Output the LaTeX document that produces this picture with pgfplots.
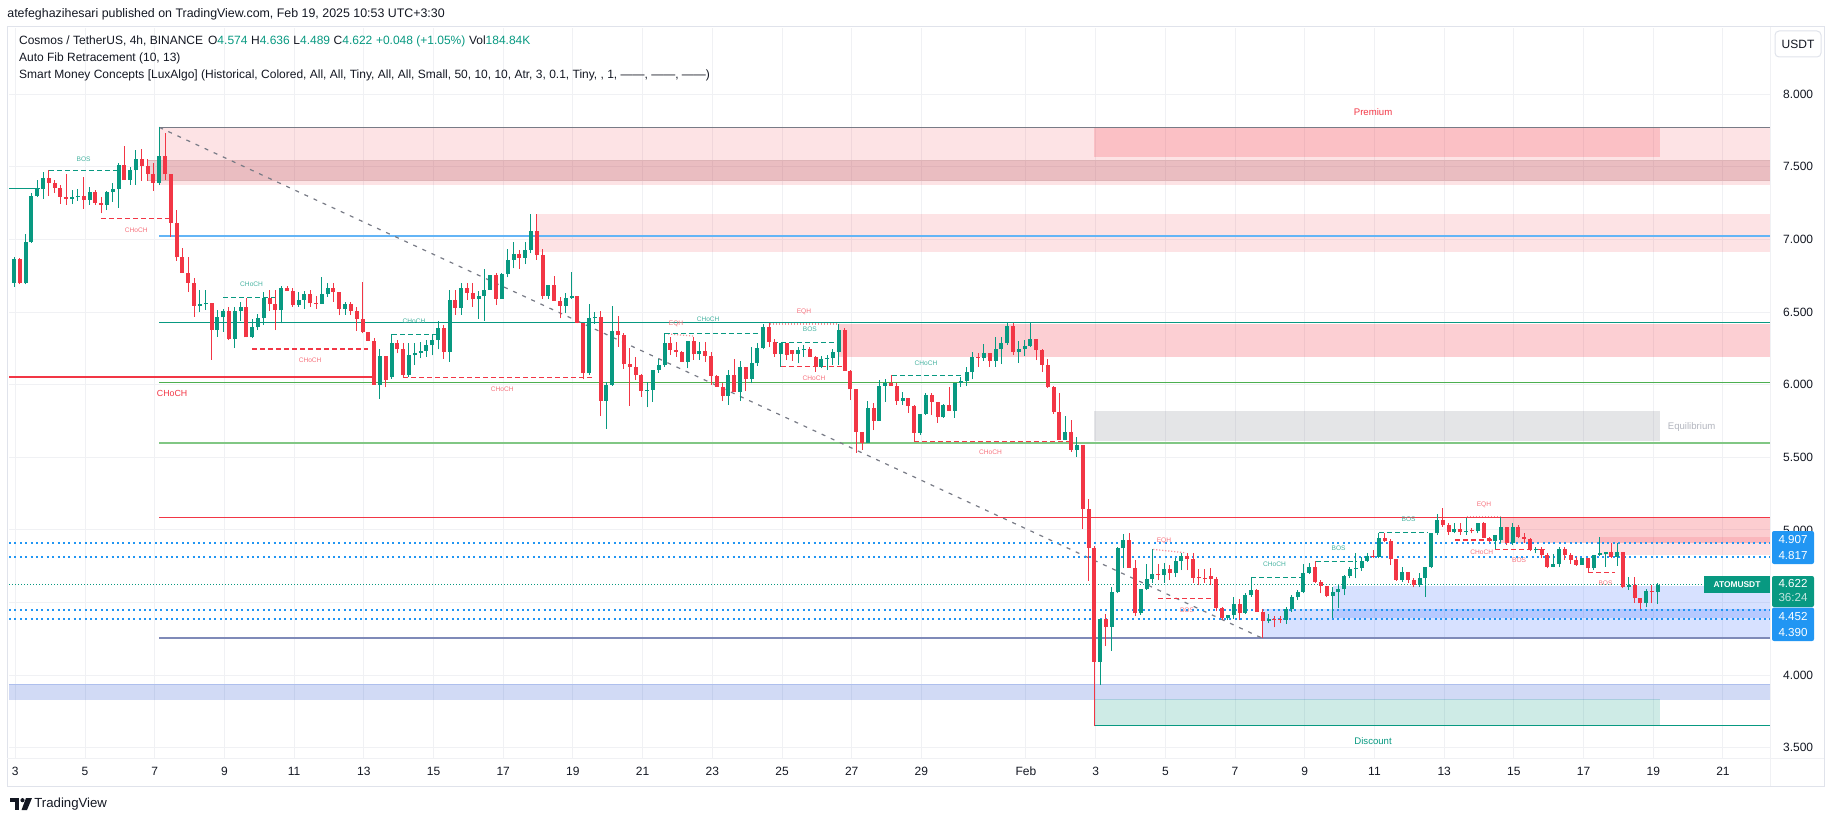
\documentclass[border=0pt]{standalone}
\usepackage{fontspec}
\setmainfont{Liberation Sans}
\usepackage{pgfplots}
\usepackage{pgfplotstable}
\pgfplotsset{compat=1.18}

\definecolor{upc}{HTML}{089981}
\definecolor{dnc}{HTML}{F23645}
\definecolor{txt}{HTML}{131722}
\definecolor{gridc}{HTML}{F0F1F4}
\definecolor{framec}{HTML}{E0E3EB}
\definecolor{fibgray}{HTML}{787B86}
\definecolor{fibblue}{HTML}{64B5F6}
\definecolor{fibgreen}{HTML}{4CAF50}
\definecolor{fiblgreen}{HTML}{81C784}
\definecolor{fibslate}{HTML}{7F8AB8}
\definecolor{tvblue}{HTML}{2196F3}
\definecolor{obblue}{HTML}{2962FF}
\definecolor{obnavy}{HTML}{1848CC}
\definecolor{darkband}{HTML}{A02832}
\definecolor{eqgray}{HTML}{B2B5BE}

% ATOM/USDT 4h candles, Jan 3 -> Feb 19 (open high low close)
\pgfplotstableread{
o h l c
6.702 6.881 6.674 6.865
6.865 6.870 6.690 6.697
6.697 7.037 6.690 6.979
6.979 7.316 6.975 7.298
7.298 7.408 7.290 7.349
7.349 7.463 7.280 7.422
7.422 7.475 7.298 7.390
7.390 7.406 7.321 7.355
7.355 7.372 7.243 7.294
7.294 7.450 7.240 7.280
7.280 7.340 7.243 7.289
7.289 7.344 7.266 7.296
7.296 7.427 7.211 7.273
7.273 7.360 7.240 7.323
7.323 7.340 7.238 7.252
7.252 7.294 7.179 7.238
7.238 7.330 7.202 7.323
7.323 7.390 7.260 7.349
7.349 7.523 7.218 7.511
7.511 7.645 7.410 7.410
7.410 7.500 7.376 7.475
7.475 7.612 7.376 7.553
7.553 7.620 7.404 7.507
7.507 7.555 7.404 7.450
7.450 7.523 7.335 7.390
7.390 7.771 7.374 7.573
7.573 7.730 7.408 7.447
7.447 7.450 7.018 7.115
7.115 7.202 6.853 6.876
6.876 6.940 6.770 6.770
6.770 6.876 6.637 6.702
6.702 6.734 6.468 6.543
6.543 6.651 6.500 6.555
6.555 6.651 6.514 6.562
6.562 6.562 6.172 6.378
6.378 6.514 6.330 6.463
6.463 6.520 6.364 6.504
6.504 6.537 6.307 6.314
6.314 6.532 6.252 6.504
6.504 6.570 6.440 6.535
6.535 6.594 6.326 6.326
6.326 6.452 6.320 6.395
6.395 6.487 6.376 6.457
6.457 6.640 6.410 6.594
6.594 6.652 6.510 6.555
6.555 6.652 6.376 6.514
6.514 6.680 6.422 6.665
6.665 6.680 6.643 6.647
6.647 6.668 6.537 6.551
6.551 6.640 6.537 6.583
6.583 6.642 6.523 6.626
6.626 6.652 6.537 6.560
6.562 6.610 6.523 6.558
6.558 6.744 6.555 6.622
6.622 6.698 6.606 6.668
6.668 6.700 6.569 6.636
6.636 6.640 6.477 6.523
6.523 6.567 6.482 6.555
6.555 6.571 6.482 6.507
6.507 6.537 6.372 6.454
6.454 6.707 6.353 6.365
6.365 6.365 6.300 6.303
6.303 6.319 5.998 5.998
5.998 6.243 5.902 6.197
6.197 6.197 5.982 6.030
6.050 6.347 6.040 6.285
6.285 6.308 6.216 6.243
6.243 6.285 6.050 6.069
6.069 6.285 6.055 6.202
6.202 6.285 6.135 6.218
6.218 6.296 6.181 6.232
6.232 6.308 6.193 6.271
6.271 6.347 6.202 6.308
6.308 6.438 6.243 6.390
6.390 6.410 6.177 6.227
6.227 6.652 6.158 6.583
6.583 6.652 6.480 6.530
6.530 6.698 6.480 6.668
6.668 6.698 6.583 6.633
6.633 6.698 6.537 6.587
6.587 6.647 6.454 6.613
6.613 6.796 6.440 6.652
6.652 6.755 6.652 6.755
6.755 6.766 6.548 6.590
6.590 6.766 6.590 6.762
6.762 6.934 6.739 6.858
6.858 6.982 6.800 6.900
6.900 6.927 6.796 6.872
6.872 6.984 6.830 6.927
6.927 7.175 6.904 7.058
7.058 7.175 6.858 6.893
6.893 6.934 6.590 6.613
6.613 6.686 6.590 6.686
6.686 6.748 6.578 6.578
6.578 6.601 6.457 6.544
6.544 6.629 6.490 6.599
6.599 6.778 6.590 6.610
6.610 6.610 6.422 6.427
6.427 6.427 6.037 6.078
6.078 6.553 6.067 6.457
6.457 6.503 6.418 6.468
6.468 6.505 5.784 5.888
5.888 6.021 5.697 5.998
5.998 6.542 5.993 6.370
6.370 6.473 6.262 6.344
6.344 6.353 6.110 6.142
6.142 6.250 5.856 6.124
6.124 6.188 6.032 6.069
6.069 6.076 5.917 5.959
5.959 6.016 5.844 5.963
5.963 6.099 5.883 6.099
6.099 6.174 6.083 6.135
6.135 6.353 6.124 6.289
6.289 6.326 6.204 6.239
6.239 6.292 6.193 6.227
6.227 6.232 6.156 6.156
6.156 6.301 6.112 6.301
6.301 6.326 6.170 6.209
6.209 6.296 6.170 6.232
6.232 6.296 6.158 6.200
6.200 6.227 5.997 6.059
6.059 6.066 5.986 5.986
5.986 6.009 5.887 5.924
5.924 6.100 5.860 6.066
6.066 6.174 5.951 5.951
5.951 6.165 5.887 6.119
6.119 6.119 5.956 6.038
6.038 6.256 6.009 6.146
6.146 6.284 6.128 6.250
6.250 6.415 6.243 6.394
6.394 6.422 6.256 6.295
6.295 6.316 6.192 6.210
6.210 6.290 6.123 6.290
6.290 6.290 6.169 6.206
6.238 6.238 6.165 6.210
6.210 6.256 6.146 6.238
6.238 6.272 6.192 6.242
6.242 6.261 6.192 6.192
6.192 6.197 6.089 6.123
6.123 6.199 6.112 6.176
6.176 6.204 6.100 6.181
6.181 6.242 6.135 6.224
6.224 6.415 6.135 6.376
6.376 6.387 6.094 6.094
6.094 6.100 5.894 5.967
5.967 5.970 5.531 5.676
5.676 5.676 5.550 5.600
5.600 5.887 5.600 5.837
5.837 5.871 5.687 5.752
5.752 6.032 5.752 5.993
5.993 6.036 5.882 6.009
6.009 6.066 5.990 5.990
5.990 6.009 5.860 5.889
5.889 5.951 5.860 5.910
5.910 5.910 5.807 5.853
5.853 5.860 5.607 5.669
5.669 5.798 5.653 5.798
5.798 5.940 5.791 5.928
5.928 5.940 5.791 5.882
5.882 5.882 5.738 5.775
5.775 5.870 5.772 5.860
5.860 5.986 5.821 5.821
5.821 6.013 5.772 6.013
6.013 6.050 5.986 6.027
6.027 6.123 5.990 6.087
6.087 6.227 6.036 6.190
6.190 6.220 6.123 6.183
6.183 6.279 6.165 6.215
6.215 6.215 6.123 6.165
6.165 6.325 6.123 6.243
6.243 6.330 6.142 6.284
6.284 6.422 6.272 6.403
6.403 6.422 6.204 6.227
6.227 6.302 6.151 6.243
6.243 6.307 6.197 6.268
6.268 6.422 6.261 6.311
6.311 6.311 6.169 6.238
6.238 6.243 6.087 6.137
6.137 6.174 5.979 5.986
5.986 5.990 5.798 5.814
5.814 5.940 5.619 5.619
5.619 5.784 5.619 5.674
5.674 5.756 5.538 5.550
5.550 5.637 5.504 5.584
5.584 5.584 5.006 5.144
5.144 5.213 4.650 4.878
4.878 4.889 3.650 4.093
4.093 4.384 3.932 4.384
4.384 4.421 4.201 4.334
4.334 4.610 4.169 4.575
4.575 4.885 4.563 4.873
4.873 4.972 4.735 4.930
4.930 4.976 4.740 4.740
4.740 4.793 4.407 4.426
4.426 4.593 4.415 4.593
4.593 4.765 4.586 4.660
4.660 4.866 4.632 4.697
4.697 4.765 4.655 4.688
4.688 4.770 4.637 4.729
4.729 4.758 4.655 4.706
4.706 4.805 4.673 4.786
4.786 4.843 4.724 4.823
4.823 4.843 4.724 4.800
4.800 4.839 4.637 4.671
4.671 4.729 4.621 4.667
4.667 4.729 4.637 4.664
4.680 4.736 4.621 4.664
4.664 4.678 4.440 4.460
4.460 4.467 4.380 4.391
4.391 4.414 4.380 4.414
4.414 4.536 4.385 4.490
4.490 4.522 4.380 4.430
4.430 4.563 4.421 4.552
4.552 4.678 4.540 4.586
4.586 4.591 4.437 4.437
4.437 4.456 4.254 4.375
4.375 4.421 4.357 4.387
4.387 4.407 4.330 4.384
4.384 4.407 4.357 4.380
4.380 4.467 4.352 4.453
4.453 4.552 4.437 4.536
4.536 4.586 4.518 4.573
4.573 4.765 4.563 4.706
4.706 4.770 4.696 4.742
4.742 4.788 4.637 4.639
4.639 4.655 4.563 4.614
4.614 4.614 4.536 4.545
4.545 4.609 4.391 4.570
4.570 4.630 4.460 4.590
4.590 4.690 4.550 4.683
4.683 4.747 4.667 4.733
4.733 4.839 4.667 4.736
4.736 4.816 4.720 4.788
4.788 4.839 4.781 4.823
4.823 4.862 4.804 4.816
4.816 4.981 4.804 4.944
4.944 4.976 4.919 4.926
4.926 4.935 4.758 4.797
4.797 4.800 4.651 4.655
4.655 4.747 4.644 4.710
4.710 4.710 4.637 4.655
4.655 4.667 4.605 4.621
4.621 4.701 4.610 4.667
4.667 4.743 4.541 4.743
4.743 4.981 4.736 4.977
4.977 5.110 4.965 5.069
5.069 5.149 5.023 5.036
5.036 5.046 4.965 4.988
4.988 5.046 4.977 5.004
5.004 5.046 4.965 4.988
4.988 5.080 4.965 4.993
5.000 5.011 4.977 4.990
4.990 5.050 4.977 5.050
5.050 5.057 4.942 4.947
4.947 4.954 4.919 4.926
4.926 4.965 4.867 4.965
4.930 5.091 4.908 5.018
5.018 5.018 4.896 4.908
4.908 5.046 4.896 5.018
5.018 5.034 4.942 4.954
4.954 4.981 4.908 4.938
4.938 4.942 4.857 4.862
4.862 4.885 4.839 4.871
4.871 4.880 4.805 4.828
4.828 4.839 4.736 4.747
4.747 4.834 4.743 4.766
4.766 4.885 4.743 4.869
4.869 4.880 4.793 4.828
4.828 4.839 4.766 4.793
4.793 4.816 4.752 4.759
4.759 4.809 4.759 4.805
4.805 4.805 4.713 4.736
4.736 4.828 4.724 4.828
4.828 4.954 4.823 4.839
4.832 4.850 4.747 4.850
4.850 4.908 4.805 4.816
4.816 4.908 4.752 4.848
4.848 4.850 4.598 4.610
4.610 4.674 4.587 4.621
4.621 4.678 4.500 4.529
4.529 4.529 4.454 4.495
4.495 4.594 4.467 4.580
4.580 4.621 4.495 4.574
4.574 4.636 4.489 4.622
}\candles

\tikzset{
  smcup/.style={upc, line width=0.6pt, dash pattern=on 2.5pt off 1.5pt},
  smcdn/.style={dnc, line width=0.6pt, dash pattern=on 2.5pt off 1.5pt},
  eqh/.style={dnc!55, line width=0.6pt, dash pattern=on 0.6pt off 0.9pt},
  lblup/.style={font=\fontsize{3.3}{4}\selectfont, text=upc!75, inner sep=0},
  lbldn/.style={font=\fontsize{3.3}{4}\selectfont, text=dnc!70, inner sep=0},
  fib/.style={line width=0.6pt},
  dotb/.style={tvblue, line width=1pt, dash pattern=on 1pt off 1.7pt},
}
\pgfplotsset{candle/.style 2 args={forget plot, draw=none, no markers,
  error bars/.cd, y dir=plus, y explicit, error mark=none,
  error bar style={line width=#1, draw=#2}}}

\begin{document}
\begin{tikzpicture}
\useasboundingbox (0,0) rectangle (917.5pt,410.5pt);

\begin{axis}[
  at={(4.5pt,31.5pt)}, anchor=south west,
  scale only axis, width=880.5pt, height=365pt,
  xmin=2.819, xmax=53.35, ymin=3.43, ymax=8.455,
  axis line style={draw=none},
  major tick length=0pt,
  xtick={3,5,...,29,32,34,...,52},
  xticklabels={3,5,7,9,11,13,15,17,19,21,23,25,27,29,Feb,3,5,7,9,11,13,15,17,19,21},
  % 4.500 sits under the price tags, as in the original: grid line only
  ytick={3.5,4,5,5.5,6,6.5,7,7.5,8},
  extra y ticks={4.5}, extra y tick labels={},
  extra y tick style={grid=major},
  yticklabel pos=right,
  xmajorgrids, ymajorgrids,
  grid style={draw=gridc, line width=0.5pt},
  tick label style={font=\fontsize{6}{7}\selectfont, text=txt},
  xticklabel style={anchor=center, yshift=-6.5pt},
  yticklabel style={anchor=west, xshift=3pt, /pgf/number format/.cd, fixed, fixed zerofill, precision=3, assume math mode=true},
]

% zones
\fill[dnc, opacity=0.14] (7.13,7.374) rectangle (53.35,7.771);
\fill[darkband, opacity=0.2] (6.81,7.408) rectangle (53.35,7.546);
\draw[darkband!35, line width=0.5pt] (6.81,7.408) -- (53.35,7.408) (6.81,7.546) -- (53.35,7.546);
\fill[dnc, opacity=0.2] (33.96,7.569) rectangle (50.18,7.771);
\fill[dnc, opacity=0.14] (17.97,6.915) rectangle (53.35,7.175);
\fill[dnc, opacity=0.24] (26.64,6.192) rectangle (53.35,6.418);
\fill[fibgray, opacity=0.2] (33.96,5.614) rectangle (50.18,5.819);
\fill[obblue, opacity=0.19] (38.81,4.254) rectangle (53.35,4.456);
\fill[obblue, opacity=0.19] (40.82,4.396) rectangle (53.35,4.614);
\fill[dnc, opacity=0.25] (45.63,4.908) rectangle (53.35,5.087);
\fill[dnc, opacity=0.14] (48.47,4.828) rectangle (53.35,4.954);
\fill[obnavy, opacity=0.2] (2.819,3.829) rectangle (53.35,3.937);
\draw[obnavy!35, line width=0.5pt] (2.819,3.937) -- (53.35,3.937);
\fill[upc, opacity=0.2] (33.96,3.653) rectangle (50.18,3.835);
\draw[upc, line width=0.6pt] (33.96,3.653) -- (53.35,3.653);

% auto fib levels
\draw[fib, fibgray] (7.13,7.771) -- (53.35,7.771);
\draw[fib, fibblue] (7.13,7.023) -- (53.35,7.023);
\draw[fib, upc] (7.13,6.429) -- (53.35,6.429);
\draw[fib, fibgreen] (7.13,6.015) -- (53.35,6.015);
\draw[fib, fiblgreen] (7.13,5.598) -- (53.35,5.598);
\draw[fib, dnc] (7.13,5.086) -- (53.35,5.086);
\draw[fib, fibslate] (7.13,4.256) -- (53.35,4.256);
\draw[fibgray, line width=0.6pt, dash pattern=on 2pt off 3pt] (7.13,7.771) -- (38.77,4.256);

% swing structure
\draw[dnc, line width=0.6pt] (2.819,6.053) -- (13.23,6.053);
\draw[upc, line width=0.6pt] (2.819,7.349) -- (3.7,7.349);
\node[font=\fontsize{4.4}{5}\selectfont, text=dnc, inner sep=0] at (7.5,5.94) {CHoCH};

% internal structure
\draw[smcup] (3.98,7.475) -- (5.95,7.475);   \node[lblup] at (4.96,7.555) {BOS};
\draw[smcdn] (5.47,7.144) -- (7.48,7.144);   \node[lbldn] at (6.47,7.064) {CHoCH};
\draw[smcup] (8.97,6.601) -- (10.55,6.601);  \node[lblup] at (9.78,6.691) {CHoCH};
\draw[smcdn] (9.80,6.246) -- (13.13,6.246);  \node[lbldn] at (11.46,6.170) {CHoCH};
\draw[smcup] (13.82,6.347) -- (15.19,6.347); \node[lblup] at (14.44,6.437) {CHoCH};
\draw[smcdn] (14.13,6.051) -- (19.63,6.051); \node[lbldn] at (16.97,5.968) {CHoCH};
\draw[eqh] (21.73,6.349) -- (22.45,6.335);   \node[lbldn] at (21.96,6.418) {EQH};
\draw[smcup] (21.64,6.353) -- (24.37,6.353); \node[lblup] at (22.88,6.450) {CHoCH};
\draw[eqh] (24.66,6.417) -- (26.64,6.417);   \node[lbldn] at (25.63,6.504) {EQH};
\draw[smcup] (24.74,6.291) -- (26.64,6.291); \node[lblup] at (25.80,6.380) {BOS};
\draw[smcdn] (24.97,6.126) -- (26.72,6.126); \node[lbldn] at (25.92,6.046) {CHoCH};
\draw[smcup] (28.15,6.061) -- (30.17,6.061); \node[lblup] at (29.13,6.150) {CHoCH};
\draw[smcdn] (28.80,5.607) -- (33.26,5.607); \node[lbldn] at (30.98,5.532) {CHoCH};
\draw[eqh] (35.65,4.866) -- (36.56,4.843);   \node[lbldn] at (35.96,4.926) {EQH};
\draw[smcdn] (35.79,4.529) -- (37.42,4.529); \node[lbldn] at (36.62,4.450) {BOS};
\draw[smcup] (38.47,4.674) -- (39.96,4.674); \node[lblup] at (39.13,4.763) {CHoCH};
\draw[smcup] (40.31,4.781) -- (41.49,4.781); \node[lblup] at (40.97,4.874) {BOS};
\draw[smcup] (42.14,4.983) -- (43.54,4.983); \node[lblup] at (42.98,5.073) {BOS};
\draw[eqh] (44.65,5.091) -- (45.66,5.091);   \node[lbldn] at (45.14,5.176) {EQH};
\draw[smcdn] (44.31,4.931) -- (45.36,4.931); \node[lbldn] at (45.08,4.846) {CHoCH};
\draw[smcdn] (45.46,4.867) -- (46.90,4.867); \node[lbldn] at (46.15,4.790) {BOS};
\draw[smcdn] (48.14,4.708) -- (48.90,4.708); \node[lbldn] at (48.63,4.633) {BOS};

% premium / equilibrium / discount
\node[font=\fontsize{4.8}{5}\selectfont, text=dnc, inner sep=0] at (41.96,7.876) {Premium};
\node[font=\fontsize{4.8}{5}\selectfont, text=eqgray, inner sep=0] at (51.1,5.71) {Equilibrium};
\node[font=\fontsize{4.8}{5}\selectfont, text=upc, inner sep=0] at (41.96,3.547) {Discount};

% dotted levels and last price
\draw[dotb] (2.819,4.907) -- (53.35,4.907);
\draw[dotb] (2.819,4.817) -- (53.35,4.817);
\draw[dotb] (2.819,4.452) -- (53.35,4.452);
\draw[dotb] (2.819,4.390) -- (53.35,4.390);
\draw[upc, line width=0.5pt, dash pattern=on 0.5pt off 1pt] (2.819,4.622) -- (53.35,4.622);

% candles: wicks then bodies
\addplot[candle={0.5pt}{upc}]
  table[x expr=2.963+\coordindex/6, y expr={\thisrow{c}>=\thisrow{o} ? \thisrow{l} : nan},
        y error plus expr=\thisrow{h}-\thisrow{l}] {\candles};
\addplot[candle={0.5pt}{dnc}]
  table[x expr=2.963+\coordindex/6, y expr={\thisrow{c}<\thisrow{o} ? \thisrow{l} : nan},
        y error plus expr=\thisrow{h}-\thisrow{l}] {\candles};
\addplot[candle={2pt}{upc}]
  table[x expr=2.963+\coordindex/6, y expr={\thisrow{c}>=\thisrow{o} ? \thisrow{o} : nan},
        y error plus expr={max(abs(\thisrow{c}-\thisrow{o}),0.006)}] {\candles};
\addplot[candle={2pt}{dnc}]
  table[x expr=2.963+\coordindex/6, y expr={\thisrow{c}<\thisrow{o} ? \thisrow{c} : nan},
        y error plus expr={max(abs(\thisrow{c}-\thisrow{o}),0.006)}] {\candles};
\end{axis}

% pixel frame: (X,Y) with Y downward, 1 px = 0.5pt
\begin{scope}[shift={(0pt,410.5pt)}, x=0.5pt, y=-0.5pt]
  \draw[framec, line width=0.5pt] (7,27) rectangle (1824,786);
  \draw[gridc, line width=0.5pt] (7,758) -- (1824,758);
  \draw[gridc, line width=0.5pt] (1770,27) -- (1770,786);

  % header
  \node[anchor=west, inner sep=0, font=\fontsize{6.2}{7}\selectfont, text=txt] at (7,14)
    {atefeghazihesari published on TradingView.com, Feb 19, 2025 10:53 UTC+3:30};
  \node[anchor=west, inner sep=0, font=\fontsize{6}{7}\selectfont, text=txt] at (18.7,41)
    {Cosmos / TetherUS, 4h, BINANCE\hspace{2.5pt}O\textcolor{upc}{4.574}\hspace{1.8pt}H\textcolor{upc}{4.636}\hspace{1.8pt}L\textcolor{upc}{4.489}\hspace{1.8pt}C\textcolor{upc}{4.622}\hspace{1.8pt}\textcolor{upc}{+0.048 (+1.05\%)}\hspace{1.8pt}Vol\textcolor{upc}{184.84K}};
  \node[anchor=west, inner sep=0, font=\fontsize{6}{7}\selectfont, text=txt] at (18.7,58.5)
    {Auto Fib Retracement (10, 13)};
  \node[anchor=west, inner sep=0, font=\fontsize{6}{7}\selectfont, text=txt] at (18.7,75)
    {Smart Money Concepts [LuxAlgo] (Historical, Colored, All, All, Tiny, All, All, Small, 50, 10, 10, Atr, 3, 0.1, Tiny, , 1, ——, ——, ——)};

  % currency box
  \draw[framec, fill=white, rounded corners=2pt, line width=0.5pt] (1775,31) rectangle (1821,57);
  \node[font=\fontsize{6}{7}\selectfont, text=txt] at (1798,44) {USDT};

  % price tags
  \tikzset{tag/.style={font=\fontsize{5.8}{6}\selectfont, text=white, inner sep=0}}
  \fill[tvblue, rounded corners=1pt] (1772,531) rectangle (1814,564);
  \node[tag] at (1793,540) {4.907};
  \node[tag] at (1793,556) {4.817};
  \fill[upc, rounded corners=1pt] (1772,576) rectangle (1814,607);
  \node[tag] at (1793,584) {4.622};
  \node[tag, text=white!75!upc] at (1793,598) {36:24};
  \fill[tvblue, rounded corners=1pt] (1772,607.5) rectangle (1814,641);
  \node[tag] at (1793,617) {4.452};
  \node[tag] at (1793,633) {4.390};
  \fill[upc] (1704,576) rectangle (1770,593);
  \node[font=\bfseries\fontsize{4.2}{5}\selectfont, text=white, inner sep=0] at (1737,584.5) {ATOMUSDT};

  % TradingView mark
  \fill[txt] (10,798) rectangle (19,802);
  \fill[txt] (15,798) rectangle (19,810);
  \fill[txt] (22.5,800.2) circle (2.1);
  \fill[txt] (26,798) -- (32,798) -- (27,810) -- (21.5,810) -- cycle;
  \node[anchor=west, inner sep=0, font=\fontsize{6.6}{7}\selectfont, text=txt] at (34,804) {TradingView};
\end{scope}
\end{tikzpicture}
\end{document}
